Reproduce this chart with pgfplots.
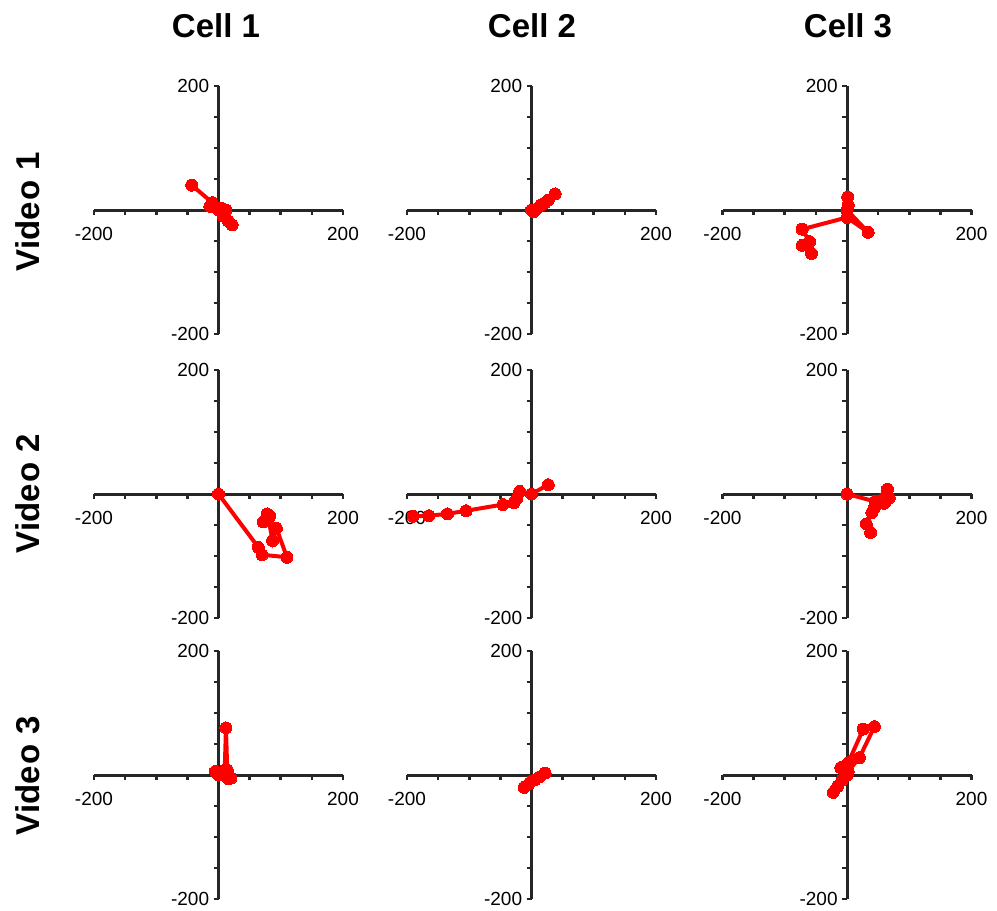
\documentclass[border=0pt]{standalone}
\usepackage{pgfplots}
\pgfplotsset{compat=1.18}
\usepackage{fontspec}
\setmainfont{Liberation Sans}
\pgfplotsset{
  panel/.style={
    scale only axis, width=124.5pt, height=124pt, anchor=center,
    axis lines=middle, axis line style={-, line width=1.5pt, color=black!85},
    xmin=-200, xmax=200, ymin=-200, ymax=200,
    xtick={-200,-150,...,200}, ytick={-200,-150,...,200},
    xticklabels={-200,{},{},{},{},{},{},{},200},
    yticklabels={-200,{},{},{},{},{},{},{},200},
    tick align=outside, major tick length=2.5pt,
    tick style={line width=1.3pt, color=black!85},
    /pgf/number format/assume math mode=true,
    ticklabel style={font=\fontsize{9.5}{10}\selectfont, inner sep=1pt},
    xticklabel style={yshift=-5pt},
    yticklabel style={xshift=-1pt},
    clip=false,
  },
  trace/.style={red, line width=2pt, mark=*, mark size=3pt, mark options={fill=red, draw=red, line width=0pt}},
}
\begin{document}
\begin{tikzpicture}
\path[use as bounding box] (0,0) rectangle (498.5pt,-455.5pt);
% titles
\node[font=\bfseries\fontsize{16.5}{20}\selectfont] at (108pt,-13pt) {Cell 1};
\node[font=\bfseries\fontsize{16.5}{20}\selectfont] at (266pt,-13pt) {Cell 2};
\node[font=\bfseries\fontsize{16.5}{20}\selectfont] at (424pt,-13pt) {Cell 3};
\node[font=\bfseries\fontsize{16.5}{20}\selectfont, rotate=90] at (14pt,-106pt) {Vide\kern1pt o 1};
\node[font=\bfseries\fontsize{16.5}{20}\selectfont, rotate=90] at (14pt,-247pt) {Vide\kern1pt o 2};
\node[font=\bfseries\fontsize{16.5}{20}\selectfont, rotate=90] at (14pt,-388pt) {Vide\kern1pt o 3};
% row 1
\begin{axis}[panel, at={(109.25pt,-105pt)}]
\addplot[trace] coordinates {(-43,40) (-10,12) (-14,6) (0,0) (5,3) (12,0) (8,-10) (16,-18) (22,-24)};
\end{axis}
\begin{axis}[panel, at={(265.75pt,-105pt)}]
\addplot[trace] coordinates {(0,0) (3,-3) (8,2) (15,8) (22,12) (27,16) (38,26)};
\end{axis}
\begin{axis}[panel, at={(423.5pt,-105pt)}]
\addplot[trace] coordinates {(1,21) (2,8) (0,0) (34,-36) (0,-12) (-72,-31) (-60,-51) (-72,-57) (-57,-70)};
\end{axis}
% row 2
\begin{axis}[panel, at={(109.25pt,-247pt)}]
\addplot[trace] coordinates {(0,0) (64,-86) (70,-98) (110,-102) (93,-55) (87,-75) (80,-40) (72,-45) (78,-32) (82,-35)};
\end{axis}
\begin{axis}[panel, at={(265.75pt,-247pt)}]
\addplot[trace] coordinates {(27,15) (0,0) (-19,4) (-24,-8) (-28,-14) (-46,-17) (-105,-27) (-135,-32) (-165,-35) (-190,-36)};
\end{axis}
\begin{axis}[panel, at={(423.5pt,-247pt)}]
\addplot[trace] coordinates {(0,0) (45,-12) (65,8) (68,-6) (60,-15) (44,-22) (40,-30) (31,-48) (38,-62)};
\end{axis}
% row 3
\begin{axis}[panel, at={(109.25pt,-387.5pt)}]
\addplot[trace] coordinates {(0,0) (-5,6) (10,8) (12,76) (14,8) (16,-6) (20,-5)};
\end{axis}
\begin{axis}[panel, at={(265.75pt,-387.5pt)}]
\addplot[trace] coordinates {(-12,-20) (-5,-15) (0,-10) (5,-8) (13,-3) (22,3)};
\end{axis}
\begin{axis}[panel, at={(423.5pt,-387.5pt)}]
\addplot[trace] coordinates {(-22,-28) (-15,-18) (-8,-8) (-10,12) (2,6) (20,28) (44,78) (26,74) (2,20) (0,0)};
\end{axis}
\end{tikzpicture}
\end{document}
